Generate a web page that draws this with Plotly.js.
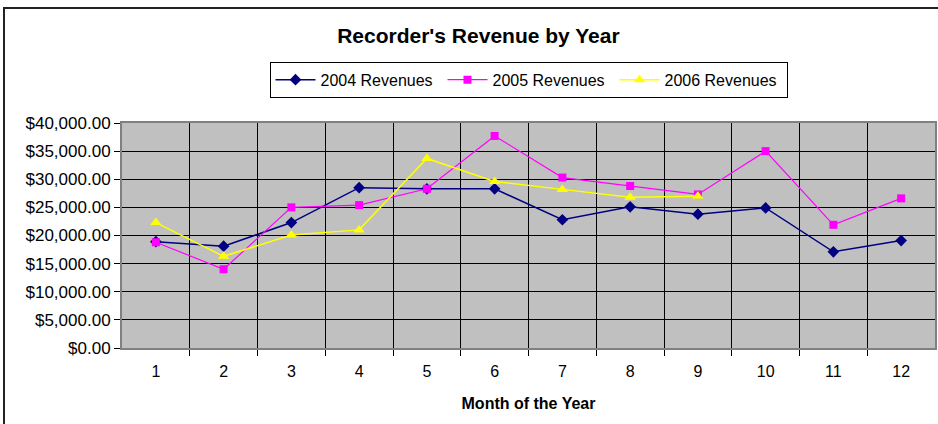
<!DOCTYPE html>
<html>
<head>
<meta charset="utf-8">
<script src="https://cdn.plot.ly/plotly-3.0.1.min.js"></script>
<style>
html,body{margin:0;padding:0;background:#fff;}
#wrap{position:relative;width:938px;height:424px;}
#chart{position:absolute;left:0;top:0;width:938px;height:424px;}
#frame{position:absolute;left:3px;top:7px;width:940px;height:420px;border-left:2px solid #222;border-top:2px solid #222;pointer-events:none;}
</style>
</head>
<body>
<div id="wrap">
<div id="chart"></div>
<div id="frame"></div>
</div>
<script>
const months = [1,2,3,4,5,6,7,8,9,10,11,12];
const monthsLabels = ['1','2','3','4','5','6','7','8','9','10','11','12'];
const rev2004 = [18900,18100,22300,28500,28300,28300,22800,25100,23800,24900,17100,19100];
const rev2005 = [18800,14000,25000,25400,28300,37700,30300,28800,27300,35000,21900,26600];
const months2006 = [1,2,3,4,5,6,7,8,9];
const rev2006 = [22300,16300,20100,21000,33700,29600,28200,26800,27000];
const seriesNames = ['2004 Revenues','2005 Revenues','2006 Revenues'];

const font = 'Liberation Sans, Arial, sans-serif';
const boundaries = [];
for (let i = 0; i < months.length - 1; i++) boundaries.push((months[i] + months[i+1]) / 2);

const traces = [
  {x: months, y: rev2004, name: seriesNames[0], mode: 'lines+markers',
   line: {color: '#000080', width: 1.5}, marker: {symbol: 'diamond', size: 9, color: '#000080'}},
  {x: months, y: rev2005, name: seriesNames[1], mode: 'lines+markers',
   line: {color: '#FF00FF', width: 1.2}, marker: {symbol: 'square', size: 8, color: '#FF00FF'}},
  {x: months2006, y: rev2006, name: seriesNames[2], mode: 'lines+markers',
   line: {color: '#FFFF00', width: 1.5}, marker: {symbol: 'triangle-up', size: 10, color: '#FFFF00'}}
];

const layout = {
  width: 938, height: 424,
  margin: {l: 122, r: 3, t: 123, b: 76},
  paper_bgcolor: '#ffffff',
  plot_bgcolor: '#C0C0C0',
  font: {family: font, size: 16, color: '#000'},
  title: {text: "<b>Recorder's Revenue by Year</b>", x: 0.51, xanchor: 'center', y: 1 - 36/424, yanchor: 'middle',
          font: {family: font, size: 21, color: '#000'}},
  showlegend: true,
  legend: {orientation: 'h', x: 0.5, xanchor: 'center', y: 1.272, yanchor: 'top',
           bordercolor: '#000', borderwidth: 1, bgcolor: '#fff',
           font: {family: font, size: 16}, itemwidth: 40, tracegroupgap: 0,
           entrywidth: 117, entrywidthmode: 'pixels'},
  xaxis: {
    range: [0.5, 12.5], tickvals: months, ticktext: monthsLabels,
    showgrid: false, zeroline: false, ticks: 'outside', ticklen: 8, tickcolor: 'rgba(0,0,0,0)',
    showline: true, mirror: true, linecolor: '#808080', linewidth: 2,
    tickfont: {family: font, size: 16},
    minor: {tickvals: boundaries, showgrid: true, gridcolor: '#000', gridwidth: 1,
            ticks: 'outside', ticklen: 6, tickcolor: '#000', tickwidth: 1},
    title: {text: '<b>Month of the Year</b>', font: {family: font, size: 16}, standoff: 19},
    automargin: false, fixedrange: true
  },
  yaxis: {
    range: [0, 40000], dtick: 5000, tickformat: '$,.2f',
    showgrid: true, gridcolor: '#000', gridwidth: 1, zeroline: false,
    ticks: 'outside', ticklen: 6, tickcolor: '#000',
    showline: true, mirror: true, linecolor: '#808080', linewidth: 2,
    tickfont: {family: font, size: 17},
    automargin: false, fixedrange: true
  }
};

Plotly.newPlot('chart', traces, layout, {staticPlot: true, displayModeBar: false});
</script>
</body>
</html>
